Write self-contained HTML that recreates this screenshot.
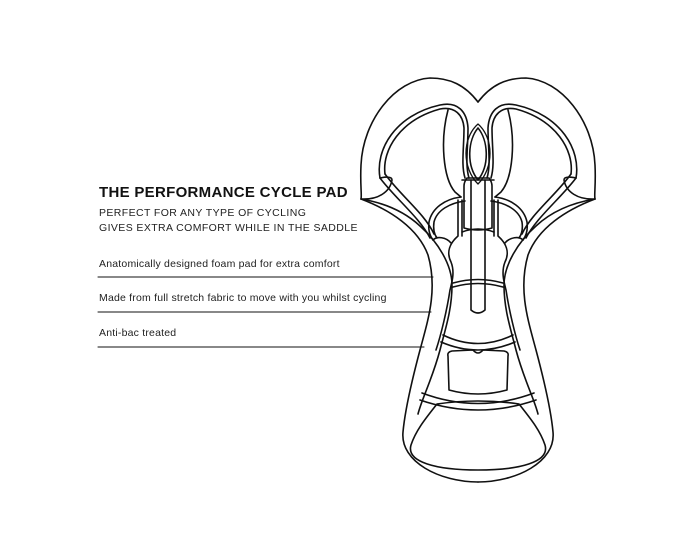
<!DOCTYPE html>
<html><head><meta charset="utf-8"><style>
html,body{margin:0;padding:0;background:#fff}
body{width:700px;height:560px;position:relative;overflow:hidden;font-family:"Liberation Sans",sans-serif;color:#222}
.t{position:absolute;left:99px;white-space:nowrap}
.h{top:184px;font-size:15px;font-weight:bold;letter-spacing:0.3px;color:#111}
.s{font-size:10.5px;letter-spacing:0.4px}
.i{font-size:10.5px;letter-spacing:0.2px}
</style></head><body>
<div class="t h">THE PERFORMANCE CYCLE PAD</div>
<div class="t s" style="top:207px">PERFECT FOR ANY TYPE OF CYCLING</div>
<div class="t s" style="top:222px">GIVES EXTRA COMFORT WHILE IN THE SADDLE</div>
<div class="t i" style="top:258px">Anatomically designed foam pad for extra comfort</div>
<div class="t i" style="top:292px">Made from full stretch fabric to move with you whilst cycling</div>
<div class="t i" style="top:327px">Anti-bac treated</div>
<svg width="700" height="560" style="position:absolute;left:0;top:0" fill="none" stroke="#111" stroke-width="1.6" stroke-linecap="round" stroke-linejoin="round">
<line x1="98" y1="277" x2="433" y2="277" stroke-width="1.1"/>
<line x1="98" y1="312" x2="431" y2="312" stroke-width="1.1"/>
<line x1="98" y1="347" x2="424" y2="347" stroke-width="1.1"/>
<g id="half">
<path d="M478,102 C465,85 450,78 430,78 C395,80 363,120 361,165 C360,185 362,195 361,199 C390,210 418,228 428,255 C438,290 428,320 420,350 C412,380 405,410 403,432 C400,462 440,482 478,482"/>
<path d="M361,199 C378,200 390,192 392,180 C392,176 385,177 380,178"/>
<path d="M361,199 C385,203 405,212 420,226 C438,242 452,265 452,285 C452,310 445,330 440,350 C432,380 422,398 418,414"/>
<path d="M380,178 C375,150 395,115 440,105 C458,101 467,112 468,128 C468,148 465,165 469,178"/>
<path d="M385,174 C382,150 400,120 440,109 C455,106 463,115 464,128 C464,148 461,165 465,178"/>
<path d="M380,178 C395,198 420,218 430,238"/>
<path d="M385,174 C400,195 425,214 434,234"/>
<path d="M448,110 C440,140 443,178 455,192 L461,197"/>
<path d="M461,197 C445,199 432,208 429,222 C428,230 430,236 433,240"/>
<path d="M465,201 C450,203 437,210 434,222 C433,229 434,234 437,238"/>
<path d="M433,240 C437,236 446,237 451,243"/>
<path d="M458,200 L458,236 C450,243 446,252 451,262 C455,272 452,282 450,290 C447,310 441,335 436,350"/>
<path d="M462,200 L462,236"/>
</g>
<use href="#half" transform="translate(956,0) scale(-1,1)"/>
<path d="M478,128 C468,140 466,165 478,180 C490,165 488,140 478,128 Z"/>
<path d="M478,124 C462,138 462,168 478,184 C494,168 494,138 478,124 Z" stroke-width="1.3"/>
<path d="M467,178 Q464,182 464,186 L464,228 Q478,232 492,228 L492,186 Q492,182 489,178 Z"/>
<path d="M462,180 L494,180 M462,232 Q478,226 494,232"/>
<path d="M471,180 L471,310 Q478,316 485,310 L485,180"/>
<path d="M453,283 Q478,276 503,283 M453,287 Q478,280 503,287"/>
<path d="M443,335 Q478,352 513,335 M441,342 Q478,358 515,342"/>
<path d="M448,356 Q447,352 452,351 L473,350 Q478,356 483,350 L504,351 Q509,352 508,356 L507,390 Q478,398 449,390 Z"/>
<path d="M422,393 Q478,414 534,393 M420,400 Q478,420 536,400"/>
<path d="M437,404 Q478,398 519,404 C530,418 540,430 545,445 C550,462 520,470 478,470 C436,470 406,462 411,445 C416,430 426,418 437,404 Z"/>
</svg>
</body></html>
